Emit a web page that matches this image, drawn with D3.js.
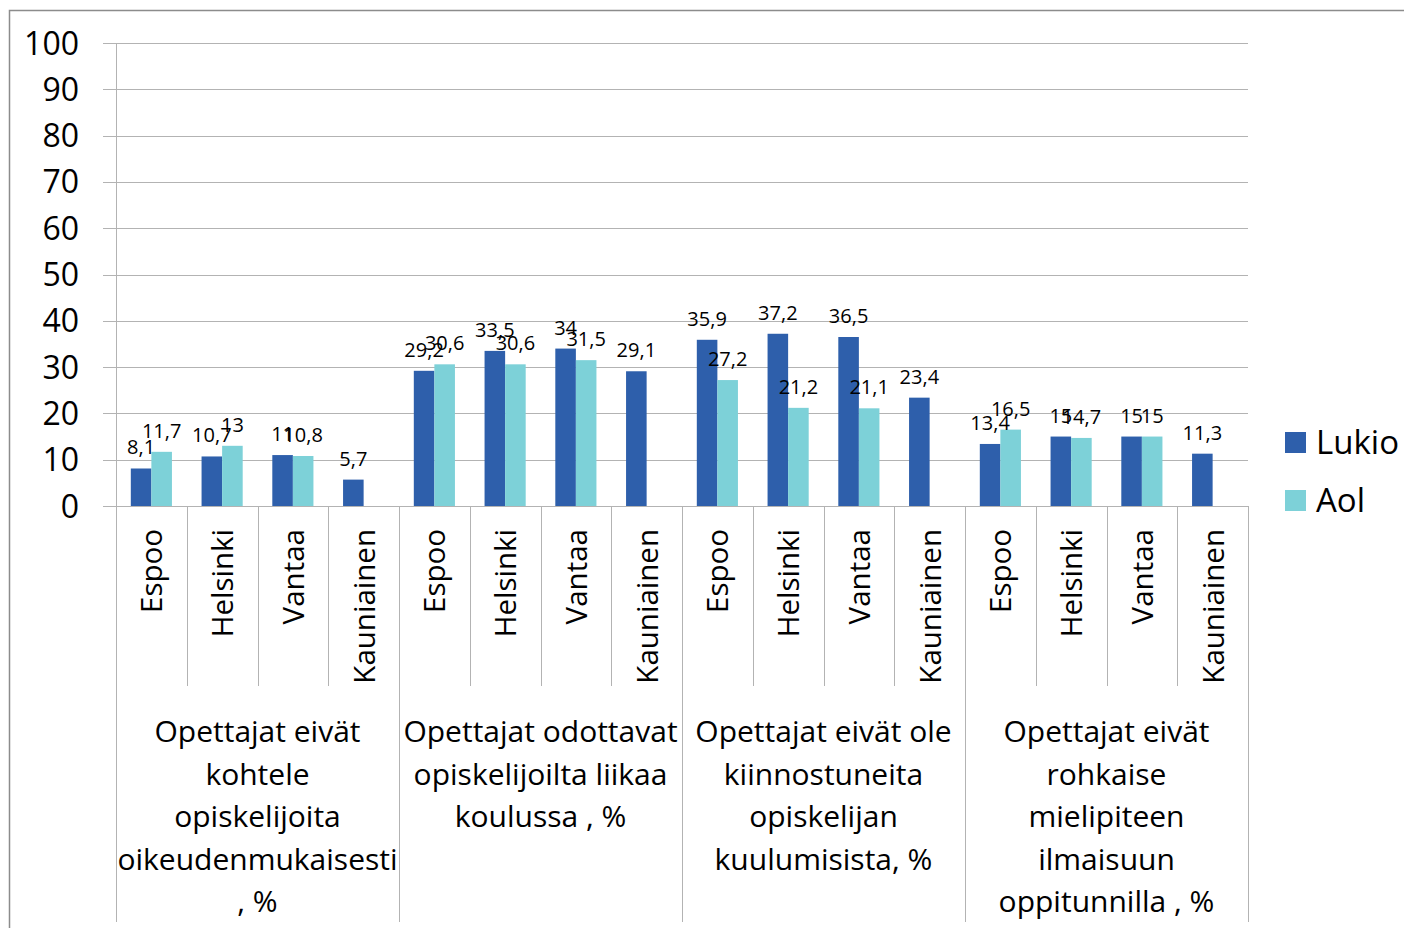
<!DOCTYPE html>
<html>
<head>
<meta charset="utf-8">
<script src="https://cdn.jsdelivr.net/npm/d3@7"></script>
<style>
  body { margin: 0; background: #fff; }
  svg text { font-family: "Open Sans", "DejaVu Sans", sans-serif; fill: #000; }
</style>
</head>
<body>
<div class="graph"></div>
<script>
// data
var groups = [
    ["Opettajat eivät", "kohtele", "opiskelijoita", "oikeudenmukaisesti", ", %"],
    ["Opettajat odottavat", "opiskelijoilta liikaa", "koulussa , %"],
    ["Opettajat eivät ole", "kiinnostuneita", "opiskelijan", "kuulumisista, %"],
    ["Opettajat eivät", "rohkaise", "mielipiteen", "ilmaisuun", "oppitunnilla , %"]
];
var cities = ["Espoo", "Helsinki", "Vantaa", "Kauniainen"];
var lukio = [8.1, 10.7, 11, 5.7, 29.2, 33.5, 34, 29.1, 35.9, 37.2, 36.5, 23.4, 13.4, 15, 15, 11.3];
var aol = [11.7, 13, 10.8, null, 30.6, 30.6, 31.5, null, 27.2, 21.2, 21.1, null, 16.5, 14.7, 15, null];
var yTicks = [0, 10, 20, 30, 40, 50, 60, 70, 80, 90, 100];
var seriesNames = ["Lukio", "Aol"];

var color_lukio = "#2E5FAB", color_aol = "#7DD1D8", grid_color = "#B3B3B3";

function fmt(v) { return String(v).replace(".", ","); }

function createGraph() {
    var svg = d3.select("div.graph").append("svg")
        .attr("width", 1404)
        .attr("height", 928);

    // outer frame
    svg.append("rect")
        .attr("x", 9.5).attr("y", 10.5)
        .attr("width", 1420).attr("height", 940)
        .attr("fill", "none").attr("stroke", "#8c8c8c").attr("stroke-width", 1.5);

    var left = 116, right = 1248, top = 43, bottom = 506;

    var slots = [];
    groups.forEach(function (g, gi) {
        cities.forEach(function (c, ci) { slots.push(gi * cities.length + ci); });
    });

    var x = d3.scaleBand().domain(slots).range([left, right]).paddingInner(0).paddingOuter(0);
    var y = d3.scaleLinear().domain([0, 100]).range([bottom, top]);
    var inner = d3.scaleBand().domain(seriesNames).range([0, x.bandwidth()]).paddingInner(0).paddingOuter(0.72);

    // gridlines + ticks
    svg.append("g")
        .selectAll("line")
        .data(yTicks)
        .join("line")
        .attr("x1", 103).attr("x2", right)
        .attr("y1", function (d) { return Math.round(y(d)) + 0.5; })
        .attr("y2", function (d) { return Math.round(y(d)) + 0.5; })
        .attr("stroke", grid_color).attr("stroke-width", 1);

    svg.append("g")
        .selectAll("text")
        .data(yTicks)
        .join("text")
        .attr("x", 79)
        .attr("y", function (d) { return y(d); })
        .attr("dy", "0.36em")
        .attr("text-anchor", "end")
        .attr("font-size", 32)
        .text(function (d) { return d; });

    // y axis line
    svg.append("line")
        .attr("x1", left + 0.5).attr("x2", left + 0.5)
        .attr("y1", top).attr("y2", 922)
        .attr("stroke", grid_color);

    // category separators
    var seps = d3.range(1, slots.length + 1);
    svg.append("g")
        .selectAll("line")
        .data(seps)
        .join("line")
        .attr("x1", function (d) { return Math.round(left + d * x.bandwidth()) + 0.5; })
        .attr("x2", function (d) { return Math.round(left + d * x.bandwidth()) + 0.5; })
        .attr("y1", bottom)
        .attr("y2", function (d) { return d % cities.length === 0 ? 922 : 686; })
        .attr("stroke", grid_color);

    // bars
    var bars = svg.append("g");
    slots.forEach(function (s) {
        [["Lukio", lukio[s], color_lukio], ["Aol", aol[s], color_aol]].forEach(function (b) {
            if (b[1] == null) return;
            var bx = x(s) + inner(b[0]);
            bars.append("rect")
                .attr("x", bx).attr("y", y(b[1]))
                .attr("width", inner.bandwidth())
                .attr("height", y(0) - y(b[1]))
                .attr("fill", b[2]);
        });
    });

    // value labels
    var labels = svg.append("g");
    slots.forEach(function (s) {
        [["Lukio", lukio[s]], ["Aol", aol[s]]].forEach(function (b) {
            if (b[1] == null) return;
            labels.append("text")
                .attr("x", x(s) + inner(b[0]) + inner.bandwidth() / 2)
                .attr("y", y(b[1]) - 14)
                .attr("text-anchor", "middle")
                .attr("font-size", 20)
                .text(fmt(b[1]));
        });
    });

    // city labels
    svg.append("g")
        .selectAll("text")
        .data(slots)
        .join("text")
        .attr("transform", function (d) {
            return "translate(" + (x(d) + x.bandwidth() / 2 + 11) + ",529) rotate(-90)";
        })
        .attr("text-anchor", "end")
        .attr("font-size", 29.5)
        .text(function (d) { return cities[d % cities.length]; });

    // group labels
    var gw = x.bandwidth() * cities.length;
    groups.forEach(function (lines, gi) {
        var t = svg.append("text")
            .attr("text-anchor", "middle")
            .attr("font-size", 30);
        lines.forEach(function (ln, li) {
            t.append("tspan")
                .attr("x", left + gi * gw + gw / 2)
                .attr("y", 742 + li * 42.5)
                .text(ln);
        });
    });

    // legend
    var legend = svg.append("g");
    [[seriesNames[0], color_lukio], [seriesNames[1], color_aol]].forEach(function (d, i) {
        legend.append("rect")
            .attr("x", 1285).attr("y", 432 + i * 58)
            .attr("width", 21).attr("height", 21)
            .attr("fill", d[1]);
        legend.append("text")
            .attr("x", 1316).attr("y", 442 + i * 58)
            .attr("dy", "0.36em")
            .attr("font-size", 33)
            .text(d[0]);
    });
}

createGraph();
</script>
</body>
</html>
